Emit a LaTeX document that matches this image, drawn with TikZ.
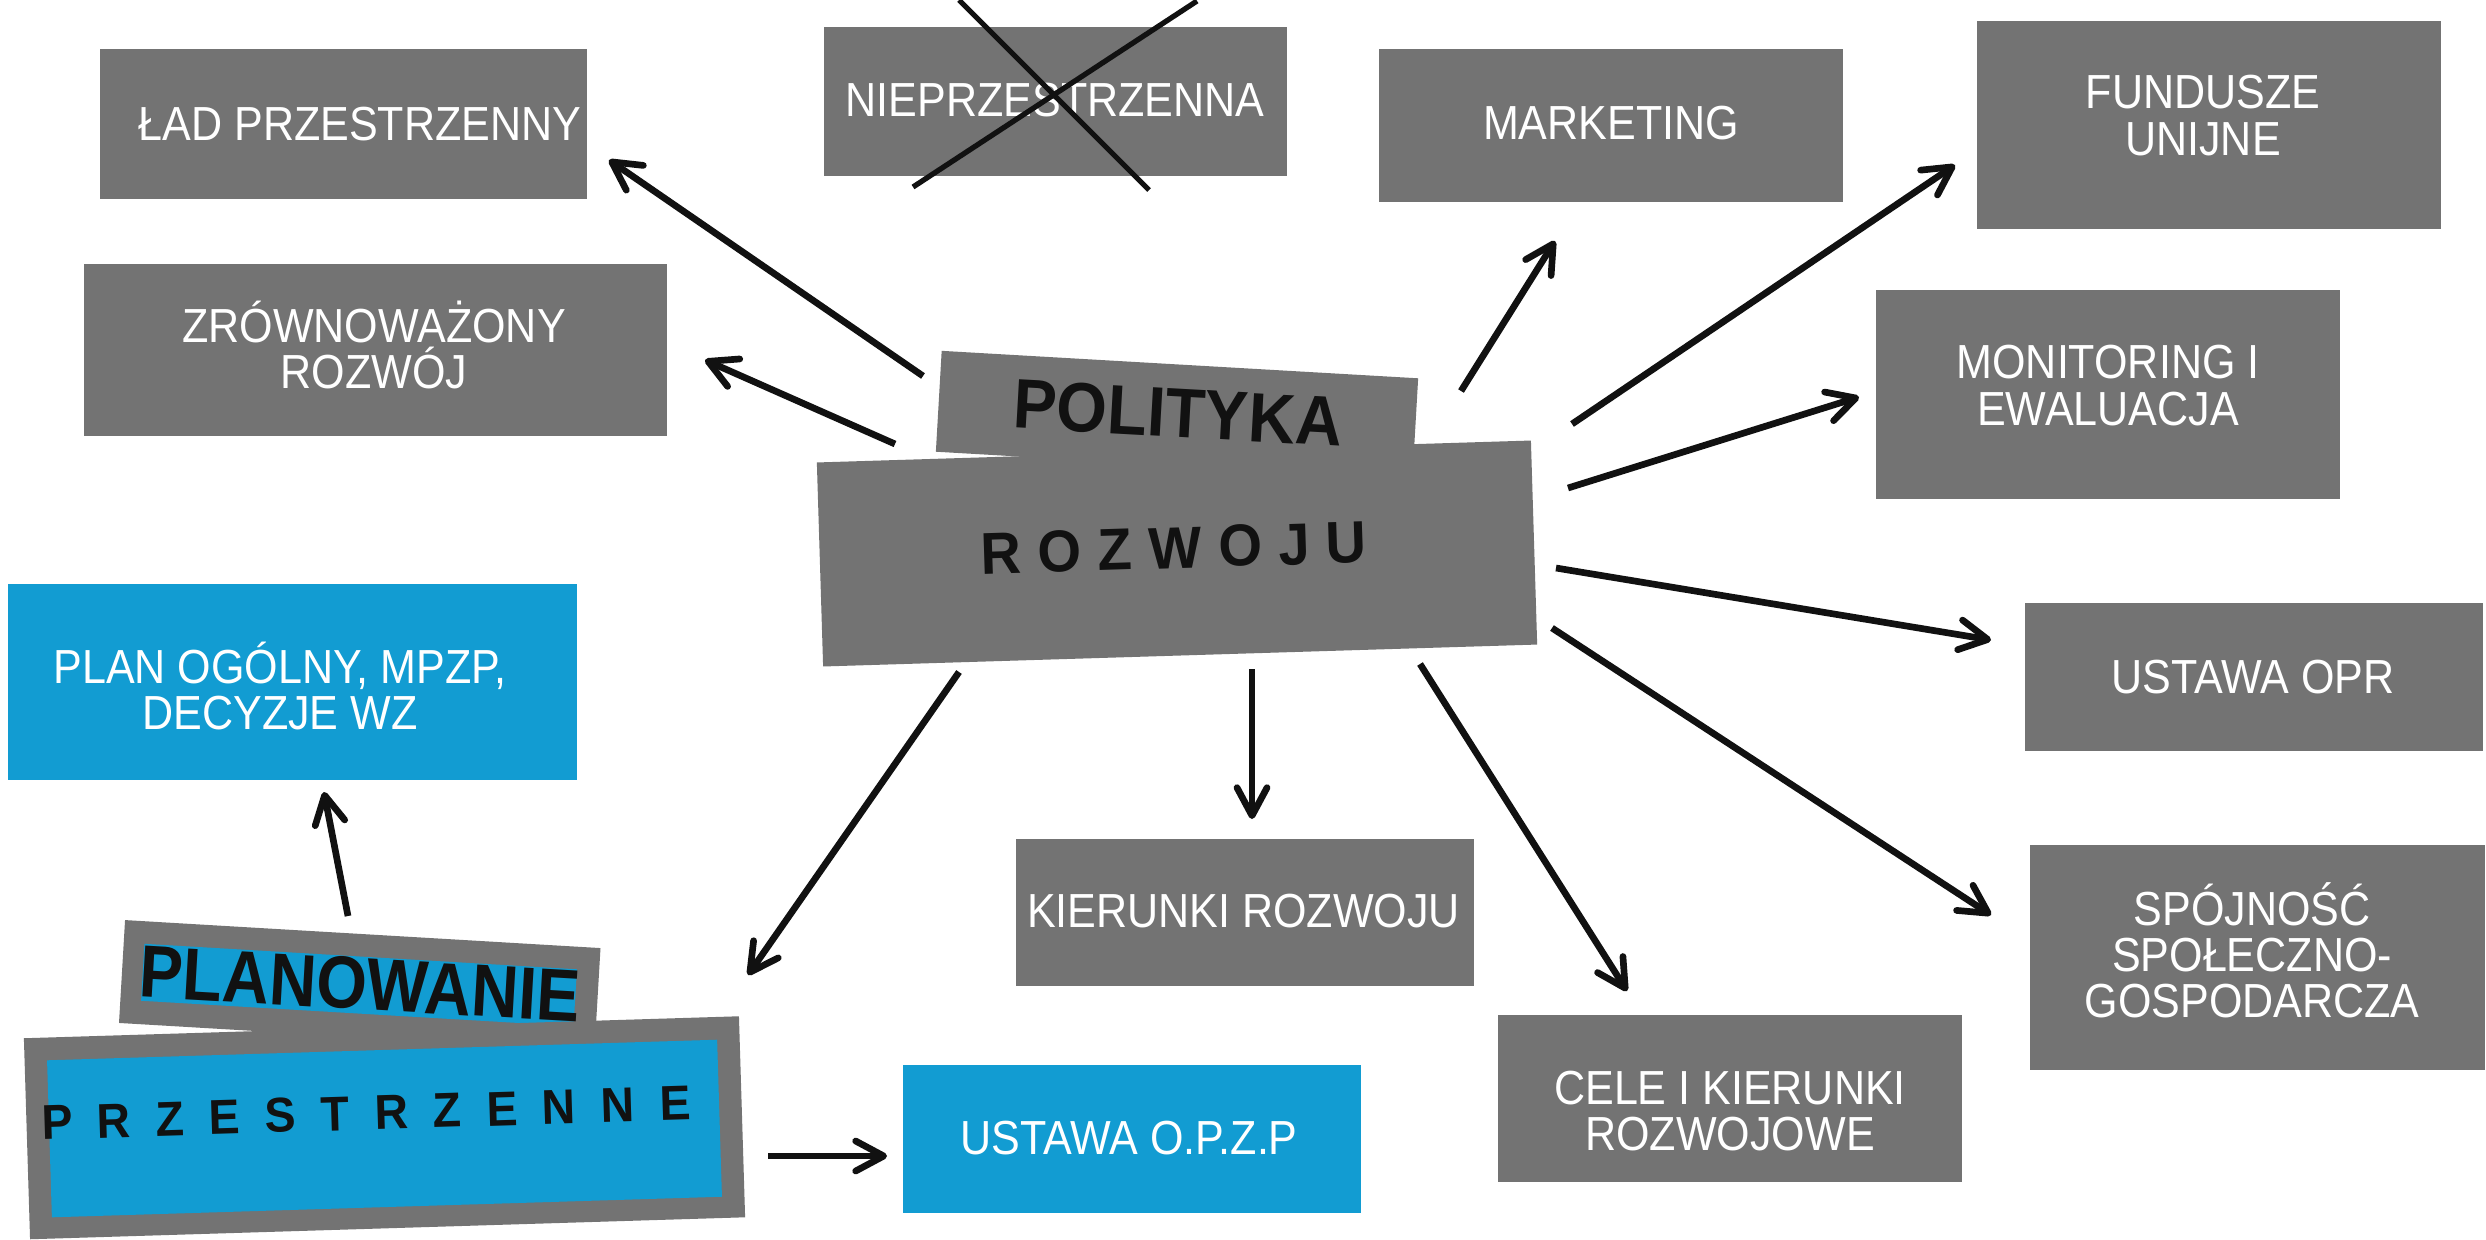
\documentclass[tikz,border=0pt]{standalone}
\usepackage{fontspec}
\setmainfont{Liberation Sans}
\newfontfamily\lblfont[FakeStretch=0.9]{Liberation Sans}
\newfontfamily\polfont[FakeStretch=0.93]{Liberation Sans}
\newfontfamily\condfont[FakeStretch=0.88]{Liberation Sans}
\newfontfamily\spacedfont[FakeStretch=0.95]{Liberation Sans}
\usetikzlibrary{arrows.meta}
\definecolor{boxgray}{RGB}{115,115,115}
\definecolor{boxblue}{RGB}{18,156,210}
\definecolor{ink}{RGB}{17,17,17}
\tikzset{
  gbox/.style={fill=boxgray, inner sep=0pt, outer sep=0pt},
  bbox/.style={fill=boxblue, inner sep=0pt, outer sep=0pt},
  wlabel/.style={text=white, align=center, inner sep=0pt, font=\lblfont\fontsize{13.6}{13.1}\selectfont},
  headtext/.style={text=ink, inner sep=0pt},
  conn/.style={draw=ink, line width=1.9pt, -{Straight Barb[length=0.28cm,width=0.30cm,round]}},
  crossline/.style={draw=ink, line width=1.5pt},
}
\begin{document}
\begin{tikzpicture}[x=0.01cm, y=-0.01cm]
\fill[white] (0,0) rectangle (2486,1239);
\useasboundingbox (0,0) rectangle (2486,1239);

% ---------- plain boxes ----------
\node[gbox, minimum width=4.87cm, minimum height=1.50cm] (lad) at (343.5,124) {};
\node[wlabel] (ladt) at (360,124) {ŁAD PRZESTRZENNY};

\node[gbox, minimum width=5.83cm, minimum height=1.72cm] (zrow) at (375.5,350) {};
\node[wlabel] (zrowt) at (374,345) {ZRÓWNOWAŻONY\\ROZWÓJ};

\node[gbox, minimum width=4.63cm, minimum height=1.49cm] (niep) at (1055.5,101.5) {};
\node[wlabel] (niept) at (1055,100) {NIEPRZESTRZENNA};

\node[gbox, minimum width=4.64cm, minimum height=1.53cm] (mark) at (1611,125.5) {};
\node[wlabel] (markt) at (1611,123) {MARKETING};

\node[gbox, minimum width=4.64cm, minimum height=2.08cm] (fund) at (2209,125) {};
\node[wlabel] (fundt) at (2203,115.5) {FUNDUSZE\\UNIJNE};

\node[gbox, minimum width=4.64cm, minimum height=2.09cm] (moni) at (2108,394.5) {};
\node[wlabel] (monit) at (2108,385.5) {MONITORING I\\EWALUACJA};

\node[gbox, minimum width=4.58cm, minimum height=1.48cm] (opr) at (2254,677) {};
\node[wlabel] (oprt) at (2253,677) {USTAWA OPR};

\node[gbox, minimum width=4.55cm, minimum height=2.25cm] (spoj) at (2257.5,957.5) {};
\node[wlabel] (spojt) at (2252,950) {SPÓJNOŚĆ\\SPOŁECZNO-\\GOSPODARCZA};

\node[gbox, minimum width=4.64cm, minimum height=1.67cm] (cele) at (1730,1098.5) {};
\node[wlabel] (celet) at (1730,1111) {CELE I KIERUNKI\\ROZWOJOWE};

\node[gbox, minimum width=4.58cm, minimum height=1.47cm] (kier) at (1245,912.5) {};
\node[wlabel] (kiert) at (1243.5,911) {KIERUNKI ROZWOJU};

\node[bbox, minimum width=4.58cm, minimum height=1.48cm] (opzp) at (1132,1139) {};
\node[wlabel] (opzpt) at (1129,1138) {USTAWA O.P.Z.P};

\node[bbox, minimum width=5.69cm, minimum height=1.96cm] (plog) at (292.5,682) {};
\node[wlabel] (plogt) at (280,686) {PLAN OGÓLNY, MPZP,\\DECYZJE WZ};

% ---------- central block ----------
\node[gbox, minimum width=4.77cm, minimum height=1.01cm, rotate=-3.3] (polbox) at (1177,415) {};
\node[gbox, minimum width=7.14cm, minimum height=2.04cm, rotate=1.76] (rozbox) at (1177,553.5) {};
\node[headtext, rotate=-3.2, font=\polfont\bfseries\fontsize{19.9}{20}\selectfont] (polt) at (1178,413) {POLITYKA};
\node[headtext, rotate=1.8, font=\spacedfont\bfseries\fontsize{16.8}{17}\selectfont] (rozt) at (1174,548) {\spaceskip=0.165cm\relax R O Z W O J U};

% ---------- planowanie block ----------
\node[gbox, minimum width=4.76cm, minimum height=1.03cm, rotate=-3.37] (planbox) at (359.75,985.5) {};
\node[bbox, minimum width=4.33cm, minimum height=0.57cm, rotate=-3.37] (planstrip) at (359,985) {};
\node[gbox, minimum width=7.15cm, minimum height=2.01cm, rotate=1.76] (przbox) at (384.5,1127.75) {};
\node[bbox, minimum width=6.70cm, minimum height=1.57cm, rotate=1.76] (przin) at (384.5,1128.5) {};
\node[headtext, rotate=-3.3, font=\condfont\bfseries\fontsize{21}{21}\selectfont] (plant) at (360,984) {PLANOWANIE};
\node[headtext, rotate=1.76, font=\spacedfont\bfseries\fontsize{13.9}{14}\selectfont] (przt) at (366,1113) {\spaceskip=0.25cm\relax P R Z E S T R Z E N N E};

% ---------- cross over NIEPRZESTRZENNA ----------
\coordinate (xa1) at (959,0);
\coordinate (xa2) at (1149,190);
\coordinate (xb1) at (1197,1);
\coordinate (xb2) at (913,187);
\draw[crossline] (xa1) -- (xa2);
\draw[crossline] (xb1) -- (xb2);

% ---------- connectors ----------
\coordinate (lads) at (923,376);   \coordinate (lade) at (609,160);
\coordinate (zrows) at (895,444);  \coordinate (zrowe) at (705,360);
\coordinate (marks) at (1461,391); \coordinate (marke) at (1555,241);
\coordinate (funds) at (1572,424); \coordinate (funde) at (1955,165);
\coordinate (monis) at (1568,488); \coordinate (monie) at (1859,397);
\coordinate (oprs) at (1556,568);  \coordinate (opre) at (1991,640);
\coordinate (spojs) at (1552,628); \coordinate (spoje) at (1991,915);
\coordinate (celes) at (1420,664); \coordinate (celee) at (1627,991);
\coordinate (kiers) at (1252,669); \coordinate (kiere) at (1252,819);
\coordinate (plans) at (959,672);  \coordinate (plane) at (748,975);
\coordinate (plogs) at (348,916);  \coordinate (ploge) at (324,792);
\coordinate (opzps) at (768,1156); \coordinate (opzpe) at (887,1156);

\draw[conn] (lads) -- (lade);
\draw[conn] (zrows) -- (zrowe);
\draw[conn] (marks) -- (marke);
\draw[conn] (funds) -- (funde);
\draw[conn] (monis) -- (monie);
\draw[conn] (oprs) -- (opre);
\draw[conn] (spojs) -- (spoje);
\draw[conn] (celes) -- (celee);
\draw[conn] (kiers) -- (kiere);
\draw[conn] (plans) -- (plane);
\draw[conn] (plogs) -- (ploge);
\draw[conn] (opzps) -- (opzpe);
\end{tikzpicture}
\end{document}
